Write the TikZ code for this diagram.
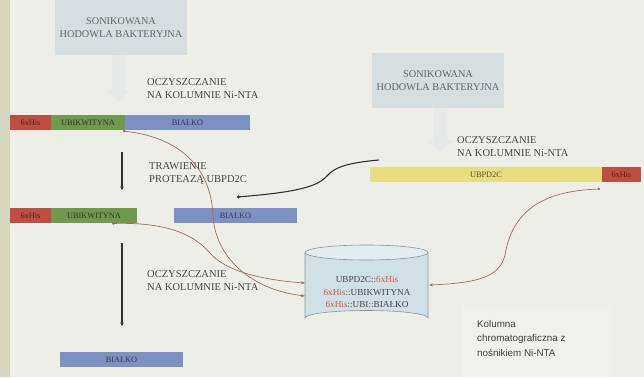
\documentclass[tikz,border=0pt]{standalone}
\usepackage{fontspec}
\setmainfont{Liberation Serif}
\newfontfamily\kolfont{Liberation Sans}
\usetikzlibrary{arrows.meta}
\definecolor{bgc}{RGB}{238,238,233}
\definecolor{stripc}{RGB}{214,214,190}
\definecolor{redc}{RGB}{190,78,66}
\definecolor{greenc}{RGB}{112,152,78}
\definecolor{bluec}{RGB}{124,144,194}
\definecolor{yelc}{RGB}{230,222,128}
\definecolor{boxc}{RGB}{214,222,224}
\definecolor{fadec}{RGB}{230,233,232}
\definecolor{txtc}{RGB}{70,70,70}
\definecolor{boxtxt}{RGB}{100,100,100}
\definecolor{curvec}{RGB}{160,110,90}
\definecolor{cylc}{RGB}{208,224,230}
\definecolor{cyltop}{RGB}{226,236,240}
\definecolor{cylline}{RGB}{140,150,155}
\definecolor{hisc}{RGB}{205,90,60}
\begin{document}
\begin{tikzpicture}[x=1pt,y=-1pt,
  bar/.style={inner sep=0pt, minimum height=15pt, font=\fontsize{8.3}{9}\selectfont},
  barR/.style={bar, fill=redc, text=redc!45!black},
  barG/.style={bar, fill=greenc, text=greenc!40!black},
  barB/.style={bar, fill=bluec, text=bluec!40!black},
  barY/.style={bar, fill=yelc, text=yelc!35!black},
  srcbox/.style={fill=boxc, inner sep=0pt, align=center, text=boxtxt, font=\fontsize{10.3}{12.5}\selectfont},
  lbl/.style={anchor=north west, inner sep=0pt, align=left, text=txtc, font=\fontsize{10.5}{13}\selectfont},
  vline/.style={draw=black!80, line width=1.1pt, -{Stealth[length=3.5pt,width=3.5pt]}},
  bcurve/.style={draw=curvec, line width=0.7pt},
  fade/.style={fill=fadec}
]
\useasboundingbox (0,0) rectangle (644,377);
\fill[bgc] (0,0) rectangle (644,377);
\fill[stripc] (0,0) rectangle (10,377);
\fill[white, opacity=0.15] (462,305) rectangle (612,377);

% source boxes with faded arrows
\fill[fade] (112,55) -- (125,55) -- (125,90) -- (130,90) -- (118.5,102) -- (107,90) -- (112,90) -- cycle;
\fill[fade] (433,108) -- (447,108) -- (447,140) -- (452,140) -- (440,152) -- (428,140) -- (433,140) -- cycle;
\node[srcbox, minimum width=132pt, minimum height=55pt] (srcL) at (121,27.5) {SONIKOWANA\\HODOWLA BAKTERYJNA};
\node[srcbox, minimum width=132pt, minimum height=55pt] (srcR) at (438,80.5) {SONIKOWANA\\HODOWLA BAKTERYJNA};

% labels
\node[lbl] (l1) at (147,78) {OCZYSZCZANIE\\NA KOLUMNIE Ni-NTA};
\node[lbl] (l2) at (149,162) {TRAWIENIE\\PROTEAZĄ UBPD2C};
\node[lbl] (l3) at (147,270) {OCZYSZCZANIE\\NA KOLUMNIE Ni-NTA};
\node[lbl] (l4) at (457,136) {OCZYSZCZANIE\\NA KOLUMNIE Ni-NTA};
\node[anchor=north west, inner sep=0pt, align=left, text=black!75, font=\kolfont\fontsize{9.8}{14.5}\selectfont] (kol) at (477,320) {Kolumna\\chromatograficzna z\\nośnikiem Ni-NTA};

% bar 1
\node[barR, minimum width=41pt] (r1) at (30.5,122.5) {6xHis};
\node[barG, minimum width=74pt] (g1) at (88,122.5) {UBIKWITYNA};
\node[barB, minimum width=125pt] (b1) at (187.5,122.5) {BIAŁKO};
% bar 2
\node[barR, minimum width=41pt] (r2) at (30.5,215.5) {6xHis};
\node[barG, minimum width=86pt] (g2) at (94,215.5) {UBIKWITYNA};
\node[barB, minimum width=123pt] (b2) at (235.5,215.5) {BIAŁKO};
% bar 3
\node[barB, minimum width=123pt] (b3) at (121.5,359.5) {BIAŁKO};
% yellow bar
\node[barY, minimum width=232pt] (y1) at (486,174.5) {UBPD2C};
\node[barR, minimum width=39pt] (r4) at (621.5,174.5) {6xHis};

% vertical arrows
\coordinate (v1a) at (122,152);
\coordinate (v1b) at (122,190);
\coordinate (v2a) at (122,243);
\coordinate (v2b) at (122,326);
\draw[vline] (v1a) -- (v1b);
\draw[vline] (v2a) -- (v2b);

% cylinder
\coordinate (cylT) at (366.5,252.5);
\draw[cylline, fill=cylc, line width=0.6pt] (305,252.5) -- (305,318) arc[start angle=180, end angle=360, x radius=61.5, y radius=7.5] -- (428,252.5);
\draw[cylline, fill=cyltop, line width=0.6pt] (cylT) ellipse[x radius=61.5, y radius=7.5];
\node[inner sep=0pt, align=center, text=txtc, font=\fontsize{9.2}{12.5}\selectfont] (cyl) at (367,292.5)
  {UBPD2C::\textcolor{hisc}{6xHis}\\\textcolor{hisc}{6xHis}::UBIKWITYNA\\\textcolor{hisc}{6xHis}::UBI::BIAŁKO};
\coordinate (cinA) at (305,296);
\coordinate (cinB) at (305,283);
\coordinate (cinC) at (429,285);

% brown curves
\coordinate (sA) at (123,131);
\coordinate (sB) at (112,223.5);
\coordinate (sC) at (600,189);
\draw[bcurve, {Circle[length=2.5pt]}-{Stealth[length=4pt,width=3pt]}] (sA) .. controls (185,138) and (211,172) .. (213,215) .. controls (215,258) and (252,290) .. (cinA);
\draw[bcurve, {Circle[length=2.5pt]}-{Stealth[length=4pt,width=3pt]}] (sB) .. controls (170,222) and (195,236) .. (210,253) .. controls (225,271) and (262,280) .. (cinB);
\draw[bcurve, {Stealth[length=4pt,width=3pt]}-{Circle[length=2.5pt]}] (cinC) .. controls (480,283) and (500,276) .. (505,255) .. controls (512,213) and (540,191) .. (sC);

% black curve
\coordinate (dS) at (379,160);
\coordinate (dE) at (237,197);
\draw[black!80, line width=1.1pt, -{Circle[length=3pt]}] (dS) .. controls (345,163) and (334,168) .. (327,176) .. controls (318,186) and (300,192) .. (dE);
\end{tikzpicture}
\end{document}
